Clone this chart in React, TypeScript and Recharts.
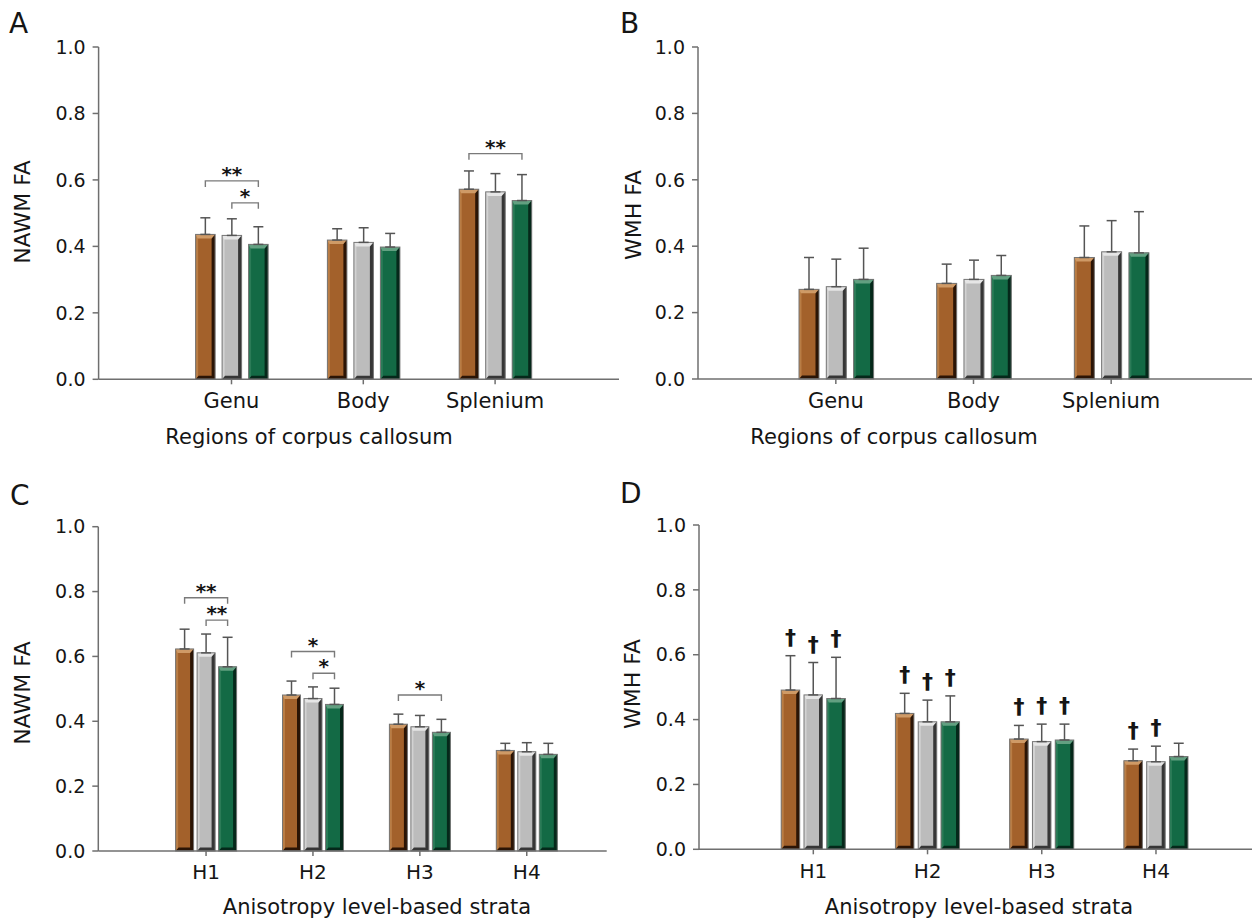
import { Bar, BarChart, ErrorBar, XAxis, YAxis } from 'recharts';

const FONT = '"DejaVu Sans", Verdana, sans-serif';
const AXIS = '#6f6f6f';
const INK = '#151515';

const regions = ['Genu', 'Body', 'Splenium'];
const strata = ['H1', 'H2', 'H3', 'H4'];
const yTicks = [0, 0.2, 0.4, 0.6, 0.8, 1.0];

// A: NAWM FA by region
const aBrown = [0.436, 0.419, 0.572];
const aGray = [0.433, 0.412, 0.564];
const aGreen = [0.406, 0.398, 0.538];
const aBrownSd = [0.05, 0.034, 0.055];
const aGraySd = [0.05, 0.044, 0.055];
const aGreenSd = [0.053, 0.041, 0.078];

// B: WMH FA by region
const bBrown = [0.27, 0.288, 0.366];
const bGray = [0.278, 0.3, 0.383];
const bGreen = [0.3, 0.312, 0.38];
const bBrownSd = [0.096, 0.058, 0.095];
const bGraySd = [0.083, 0.058, 0.094];
const bGreenSd = [0.094, 0.06, 0.124];

// C: NAWM FA by strata
const cBrown = [0.623, 0.481, 0.391, 0.31];
const cGray = [0.611, 0.47, 0.383, 0.306];
const cGreen = [0.568, 0.452, 0.366, 0.298];
const cBrownSd = [0.061, 0.043, 0.031, 0.022];
const cGraySd = [0.058, 0.036, 0.035, 0.028];
const cGreenSd = [0.091, 0.05, 0.04, 0.034];

// D: WMH FA by strata
const dBrown = [0.491, 0.419, 0.34, 0.273];
const dGray = [0.476, 0.393, 0.332, 0.27];
const dGreen = [0.465, 0.393, 0.337, 0.286];
const dBrownSd = [0.106, 0.062, 0.042, 0.036];
const dGraySd = [0.1, 0.067, 0.054, 0.048];
const dGreenSd = [0.127, 0.08, 0.049, 0.041];

// significance brackets (series index 0 brown, 1 gray, 2 green)
const aBrackets = [
  { cat: 'Genu', from: 0, to: 2, level: 0.597, mark: '**' },
  { cat: 'Genu', from: 1, to: 2, level: 0.531, mark: '*' },
  { cat: 'Splenium', from: 0, to: 2, level: 0.679, mark: '**' },
];
const cBrackets = [
  { cat: 'H1', from: 0, to: 2, level: 0.781, mark: '**' },
  { cat: 'H1', from: 1, to: 2, level: 0.712, mark: '**' },
  { cat: 'H2', from: 0, to: 2, level: 0.615, mark: '*' },
  { cat: 'H2', from: 1, to: 2, level: 0.548, mark: '*' },
  { cat: 'H3', from: 0, to: 2, level: 0.481, mark: '*' },
];
// daggers in D, per series
const dDaggers = [
  [true, true, true, true],
  [true, true, true, true],
  [true, true, true, false],
];

const KEYS = ['brown', 'gray', 'green'];
const SD_KEYS = ['brownSd', 'graySd', 'greenSd'];

const TONES = [
  { base: '#a3612b', light: '#cf9a66', edge: '#b97d45', dark: '#2b1405' },
  { base: '#bcbcbc', light: '#e6e6e6', edge: '#d2d2d2', dark: '#363636' },
  { base: '#136a45', light: '#62a081', edge: '#2b7b57', dark: '#05281a' },
];

function rows(cats: string[], a: number[], b: number[], c: number[], ea: number[], eb: number[], ec: number[]) {
  return cats.map((name, i) => ({
    name,
    brown: a[i],
    gray: b[i],
    green: c[i],
    brownSd: [0, ea[i]],
    graySd: [0, eb[i]],
    greenSd: [0, ec[i]],
  }));
}

type Bracket = { cat: string; from: number; to: number; level: number; mark: string };
type PanelCfg = {
  letter: string;
  box: { left: number; top: number; width: number; height: number };
  plot: { l: number; t: number; r: number; b: number };
  padL: number;
  padR: number;
  barSize: number;
  gap: number;
  xFont: number;
  data: any[];
  brackets?: Bracket[];
  daggers?: boolean[][];
};

const PANELS: PanelCfg[] = [
  {
    letter: 'A',
    box: { left: 0, top: 0, width: 640, height: 470 },
    plot: { l: 98.6, t: 47, r: 619, b: 379.3 },
    padL: 67, padR: 58, barSize: 19.5, gap: 7, xFont: 21,
    data: rows(regions, aBrown, aGray, aGreen, aBrownSd, aGraySd, aGreenSd),
    brackets: aBrackets,
  },
  {
    letter: 'B',
    box: { left: 620, top: 0, width: 634, height: 470 },
    plot: { l: 698, t: 47, r: 1252, b: 379 },
    padL: 69, padR: 72, barSize: 20, gap: 7.3, xFont: 21,
    data: rows(regions, bBrown, bGray, bGreen, bBrownSd, bGraySd, bGreenSd),
  },
  {
    letter: 'C',
    box: { left: 0, top: 470, width: 620, height: 453 },
    plot: { l: 98.3, t: 526.7, r: 606.7, b: 851 },
    padL: 54.3, padR: 26.5, barSize: 18, gap: 3.5, xFont: 20,
    data: rows(strata, cBrown, cGray, cGreen, cBrownSd, cGraySd, cGreenSd),
    brackets: cBrackets,
  },
  {
    letter: 'D',
    box: { left: 620, top: 470, width: 634, height: 453 },
    plot: { l: 699, t: 525, r: 1252, b: 849.3 },
    padL: 57.2, padR: 38.9, barSize: 18.5, gap: 4.3, xFont: 20,
    data: rows(strata, dBrown, dGray, dGreen, dBrownSd, dGraySd, dGreenSd),
    daggers: dDaggers,
  },
];

function Bar3D({ x, y, w, h, s }: { x: number; y: number; w: number; h: number; s: number }) {
  if (!(h > 0)) return null;
  const t = TONES[s];
  const sh = 3.5;
  return (
    <g>
      <rect x={x} y={y} width={w} height={h} fill={t.base} />
      <rect x={x} y={y} width={2.5} height={h} fill={t.edge} />
      <rect x={x + w - sh} y={y} width={sh} height={h} fill={t.dark} />
      <polygon
        points={`${x},${y} ${x + w},${y} ${x + w - sh},${y + 4} ${x + 2},${y + 4}`}
        fill={t.light}
      />
      <polygon
        points={`${x},${y + h} ${x + 3},${y + h - 3.5} ${x + w - sh},${y + h - 3.5} ${x + w},${y + h}`}
        fill={t.dark}
      />
      <rect x={x} y={y} width={w} height={h} fill="none" stroke="#767676" strokeWidth={1} />
    </g>
  );
}

function makeShape(s: number, cfg: PanelCfg) {
  return (p: any) => {
    const { x, y, width: w, height: h, payload, index } = p;
    const v = payload[KEYS[s]];
    const k = v > 0 ? h / v : 0;
    const base = y + h;
    const toY = (val: number) => base - val * k;
    const cx = x + w / 2;
    const step = w + cfg.gap;
    const extra: any[] = [];
    if (cfg.daggers && cfg.daggers[s][index]) {
      const top = toY(v + payload[SD_KEYS[s]][1]);
      extra.push(
        <text key="dg" x={cx} y={top - 11} textAnchor="middle" fontSize={22} fontWeight="bold" fontFamily={FONT} fill={INK}>
          †
        </text>
      );
    }
    if (s === 2 && cfg.brackets) {
      cfg.brackets
        .filter((b) => b.cat === payload.name)
        .forEach((b, j) => {
          const x1 = cx - (2 - b.from) * step;
          const x2 = cx - (2 - b.to) * step;
          const ly = toY(b.level);
          extra.push(
            <path key={`br${j}`} d={`M${x1},${ly + 6} V${ly} H${x2} V${ly + 6}`} fill="none" stroke="#7a7a7a" strokeWidth={1.4} />,
            <text key={`bt${j}`} x={(x1 + x2) / 2} y={ly} textAnchor="middle" fontSize={20} fontWeight="bold" fontFamily={FONT} fill={INK}>
              {b.mark}
            </text>
          );
        });
    }
    return (
      <g>
        <Bar3D x={x} y={y} w={w} h={h} s={s} />
        {extra}
      </g>
    );
  };
}

function Panel({ cfg }: { cfg: PanelCfg }) {
  const XH = 40;
  const margin = {
    top: cfg.plot.t - cfg.box.top,
    left: 0,
    right: cfg.box.left + cfg.box.width - cfg.plot.r,
    bottom: cfg.box.top + cfg.box.height - cfg.plot.b - XH,
  };
  return (
    <div style={{ position: 'absolute', left: cfg.box.left, top: cfg.box.top }}>
      <BarChart
        width={cfg.box.width}
        height={cfg.box.height}
        data={cfg.data}
        margin={margin}
        barGap={cfg.gap}
        barSize={cfg.barSize}
      >
        <XAxis
          dataKey="name"
          height={XH}
          interval={0}
          padding={{ left: cfg.padL, right: cfg.padR }}
          axisLine={{ stroke: AXIS, strokeWidth: 1.5 }}
          tickLine={{ stroke: AXIS, strokeWidth: 1.5 }}
          tickSize={5}
          tickMargin={9}
          tick={{ fontSize: cfg.xFont, fill: INK, fontFamily: FONT }}
        />
        <YAxis
          width={cfg.plot.l - cfg.box.left}
          domain={[0, 1]}
          ticks={yTicks}
          interval={0}
          tickFormatter={(v: number) => v.toFixed(1)}
          axisLine={{ stroke: AXIS, strokeWidth: 1.5 }}
          tickLine={{ stroke: AXIS, strokeWidth: 1.5 }}
          tickSize={6}
          tickMargin={7}
          tick={{ fontSize: 19, fill: INK, fontFamily: FONT }}
        />
        {KEYS.map((key, s) => (
          <Bar key={key} dataKey={key} isAnimationActive={false} shape={makeShape(s, cfg)}>
            <ErrorBar dataKey={SD_KEYS[s]} direction="y" width={5} stroke="#555" strokeWidth={1.5} />
          </Bar>
        ))}
      </BarChart>
    </div>
  );
}

const letters = [
  { t: 'A', x: 9, y: 33 },
  { t: 'B', x: 620, y: 33 },
  { t: 'C', x: 10, y: 505 },
  { t: 'D', x: 620, y: 503 },
];
const xTitles = [
  { t: 'Regions of corpus callosum', x: 309, y: 444 },
  { t: 'Regions of corpus callosum', x: 894, y: 444 },
  { t: 'Anisotropy level-based strata', x: 377, y: 914 },
  { t: 'Anisotropy level-based strata', x: 979, y: 914 },
];
const yTitles = [
  { t: 'NAWM FA', x: 22, y: 212 },
  { t: 'WMH FA', x: 633, y: 215 },
  { t: 'NAWM FA', x: 22, y: 693 },
  { t: 'WMH FA', x: 632, y: 684 },
];

export default function App() {
  return (
    <div style={{ position: 'absolute', left: 0, top: 0, width: 1254, height: 923, background: '#fff' }}>
      {PANELS.map((p) => (
        <Panel key={p.letter} cfg={p} />
      ))}
      <svg
        width={1254}
        height={923}
        style={{ position: 'absolute', left: 0, top: 0, pointerEvents: 'none' }}
        fontFamily={FONT}
        fill={INK}
      >
        {letters.map((l) => (
          <text key={l.t} x={l.x} y={l.y} fontSize={28}>
            {l.t}
          </text>
        ))}
        {xTitles.map((l, i) => (
          <text key={`x${i}`} x={l.x} y={l.y} fontSize={21} textAnchor="middle">
            {l.t}
          </text>
        ))}
        {yTitles.map((l, i) => (
          <text
            key={`y${i}`}
            x={l.x}
            y={l.y}
            fontSize={22}
            textAnchor="middle"
            dominantBaseline="central"
            transform={`rotate(-90 ${l.x} ${l.y})`}
          >
            {l.t}
          </text>
        ))}
      </svg>
    </div>
  );
}
